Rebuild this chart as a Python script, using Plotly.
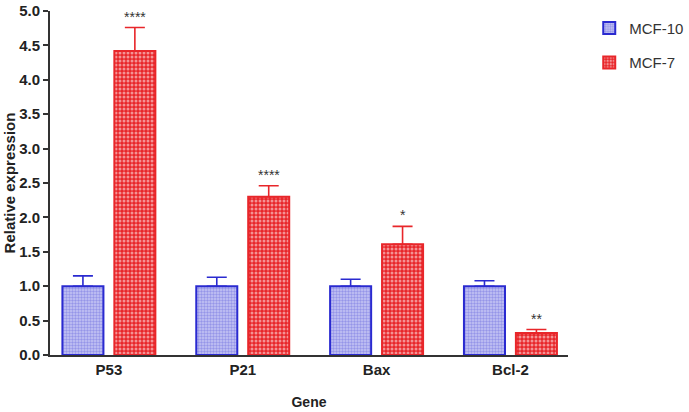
import plotly.graph_objects as go

genes = ["P53", "P21", "Bax", "Bcl-2"]
mcf10 = [1.0, 1.0, 1.0, 1.0]
mcf10_err = [0.15, 0.13, 0.10, 0.08]
mcf7 = [4.42, 2.30, 1.61, 0.32]
mcf7_err = [0.34, 0.16, 0.26, 0.05]
sig = ["****", "****", "*", "**"]

blue = "#2a2ad0"
red = "#e8262a"

fig = go.Figure()
fig.add_trace(go.Bar(
    name="MCF-10", x=genes, y=mcf10, legendgroup="a",
    marker=dict(color="#9c9ce8", line=dict(color=blue, width=2),
                pattern=dict(shape=".", fgcolor="#6464dc", bgcolor="#c6c6f4", size=3, solidity=0.5)),
    error_y=dict(type="data", symmetric=False, array=mcf10_err, arrayminus=[0]*4,
                 color=blue, thickness=1.6, width=10),
))
fig.add_trace(go.Bar(
    name="MCF-7", x=genes, y=mcf7, legendgroup="b",
    marker=dict(color=red, line=dict(color=red, width=2),
                pattern=dict(shape=".", fgcolor="#ffffff", bgcolor=red, size=4, solidity=0.45)),
    error_y=dict(type="data", symmetric=False, array=mcf7_err, arrayminus=[0]*4,
                 color=red, thickness=1.6, width=10),
))

for i, (v, e, s) in enumerate(zip(mcf7, mcf7_err, sig)):
    fig.add_annotation(x=i + 0.194, y=v + e, text=s, showarrow=False, xref="x", yref="y",
                       yanchor="bottom", yshift=1, font=dict(size=14, color="#333333"))

fig.update_layout(
    width=689, height=412,
    margin=dict(l=50, r=121, t=11, b=57, autoexpand=False),
    paper_bgcolor="white", plot_bgcolor="white",
    barmode="group", bargap=0.224, bargroupgap=0.21,
    font=dict(family="Liberation Sans, Arial, sans-serif", color="#222222"),
    legend=dict(x=1.041, y=0.998, xanchor="left", yanchor="top",
                font=dict(size=15, color="#333333"), tracegroupgap=12,
                traceorder="grouped"),
    showlegend=True,
)
fig.update_xaxes(
    range=[-0.44, 3.43], showline=True, linecolor="#333333", linewidth=2, automargin=False,
    ticks="", tickfont=dict(size=15, weight="bold", color="#222222"),
    title=dict(text="Gene", font=dict(size=14, weight="bold", color="#222222"), standoff=20),
    showgrid=False, zeroline=False,
)
fig.update_yaxes(
    range=[0, 5], dtick=0.5, tickformat=".1f", showline=True, linecolor="#333333", linewidth=2,
    automargin=False,
    ticks="outside", ticklen=5, tickwidth=2, tickcolor="#333333",
    tickfont=dict(size=15, weight="bold", color="#222222"),
    title=dict(text="Relative expression", font=dict(size=15, weight="bold", color="#222222"), standoff=0),
    showgrid=False, zeroline=False,
)
fig.write_html("out.html", config={"displayModeBar": False},
               post_script="document.body.style.margin='0';")
